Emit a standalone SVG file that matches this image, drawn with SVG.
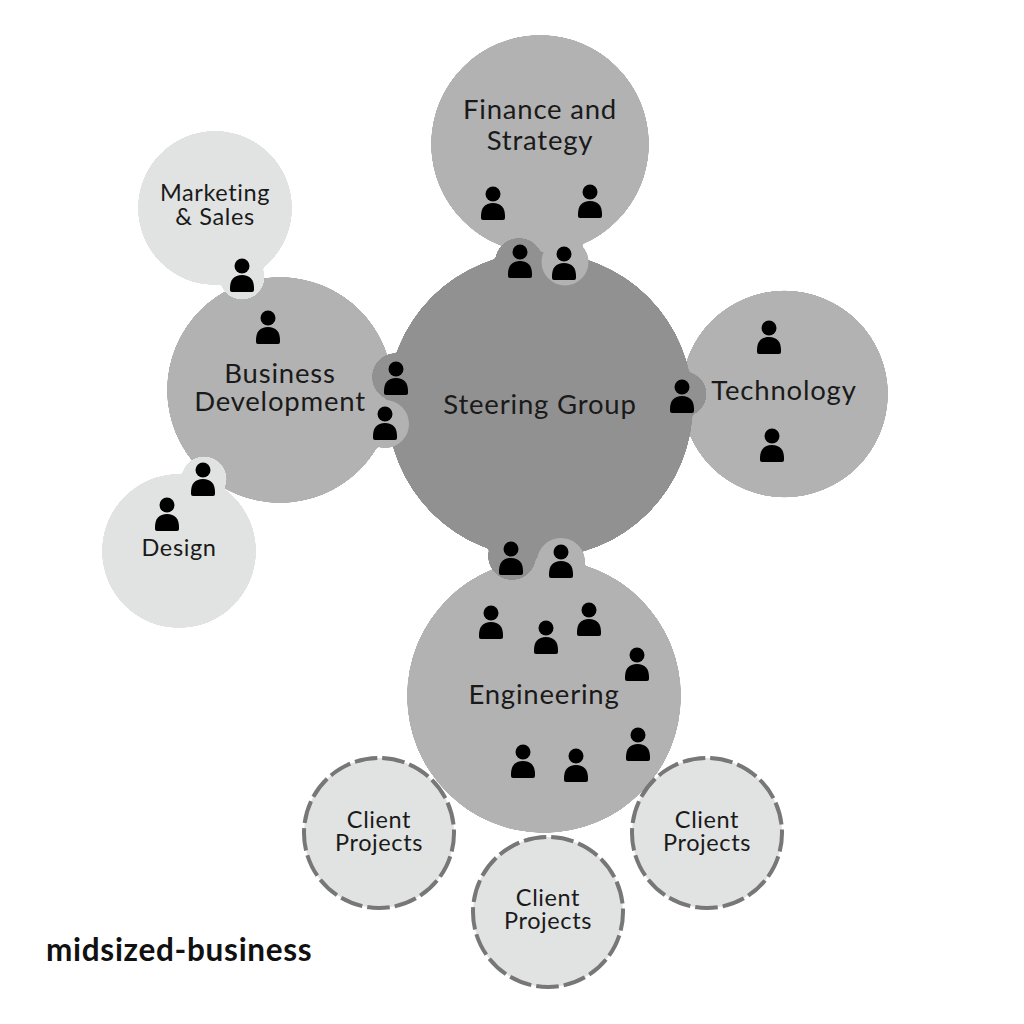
<svg xmlns="http://www.w3.org/2000/svg" width="1024" height="1024" viewBox="0 0 1024 1024">
<style>
text{font-family:Lato,"Noto Sans","Liberation Sans",sans-serif;fill:#1a1a1a;text-anchor:middle}
.l{font-size:27.5px;letter-spacing:.8px}.s{font-size:23.5px;letter-spacing:.6px}
.mid{fill:#b2b2b2}.dark{fill:#919191}.pale{fill:#e1e3e2}
.goo{filter:url(#goo)}
.cp{fill:#e1e3e2;stroke:#777;stroke-width:4;stroke-dasharray:22.7 5;stroke-dashoffset:4}
</style>
<defs>
<filter id="goo" x="-15%" y="-15%" width="130%" height="130%" color-interpolation-filters="sRGB"><feGaussianBlur stdDeviation="1.6"/><feColorMatrix values="1 0 0 0 0 0 1 0 0 0 0 0 1 0 0 0 0 0 12 -5.500"/></filter>
<g id="p" fill="#000"><circle cx="0" cy="0" r="7.500"/><path d="M-12 22C-12 14-8 9 0 9S12 14 12 22V24Q12 26 10 26H-10Q-12 26-12 24Z"/></g>
</defs>
<rect width="1024" height="1024" fill="#fff"/>
<g id="connectors"/>
<g id="finance" class="goo"><circle class="mid" cx="540" cy="144" r="109"/><circle class="mid" cx="565" cy="262" r="23.500"/></g>
<g id="technology" class="goo"><circle class="mid" cx="784.500" cy="394" r="103.500"/></g>
<g id="business-development" class="goo"><circle class="mid" cx="280" cy="390" r="113"/><circle class="mid" cx="385" cy="424" r="24"/></g>
<g id="engineering" class="goo"><circle class="mid" cx="544" cy="696" r="137"/><circle class="mid" cx="561" cy="562" r="24"/></g>
<g id="marketing" class="goo"><circle class="pale" cx="215" cy="208" r="77"/><circle class="pale" cx="242" cy="277" r="22.500"/></g>
<g id="design" class="goo"><circle class="pale" cx="179" cy="551" r="77"/><circle class="pale" cx="204" cy="479" r="22.500"/></g>
<g id="steering" class="goo"><circle class="dark" cx="519" cy="262" r="24"/><circle class="dark" cx="396" cy="377" r="24"/><circle class="dark" cx="512" cy="556" r="24"/><circle class="dark" cx="684" cy="394" r="22.500"/><circle class="dark" cx="540" cy="405" r="153"/></g>
<g id="shared-members"><circle class="mid" cx="565" cy="262" r="23.500"/><circle class="mid" cx="385" cy="424" r="24"/><circle class="mid" cx="561" cy="562" r="24"/></g>
<g id="client-1"><circle class="cp" cx="379" cy="833" r="75"/><text class="s" x="379" y="828">Client</text><text class="s" x="379" y="851">Projects</text></g>
<g id="client-2"><circle class="cp" cx="707" cy="833" r="75"/><text class="s" x="707" y="828">Client</text><text class="s" x="707" y="851">Projects</text></g>
<g id="client-3"><circle class="cp" cx="548" cy="912" r="75"/><text class="s" x="548" y="906">Client</text><text class="s" x="548" y="929">Projects</text></g>
<g id="people">
<use href="#p" x="493" y="194"/><use href="#p" x="590" y="192"/><use href="#p" x="520" y="252"/><use href="#p" x="564" y="254"/>
<use href="#p" x="396" y="369"/><use href="#p" x="385" y="414"/><use href="#p" x="511" y="549"/><use href="#p" x="561" y="552"/>
<use href="#p" x="682" y="387"/><use href="#p" x="769" y="328"/><use href="#p" x="772" y="436"/>
<use href="#p" x="242" y="266"/><use href="#p" x="268" y="318"/><use href="#p" x="203" y="470"/><use href="#p" x="167" y="505"/>
<use href="#p" x="491" y="613"/><use href="#p" x="546" y="628"/><use href="#p" x="589" y="610"/><use href="#p" x="637" y="655"/><use href="#p" x="638" y="735"/><use href="#p" x="523" y="752"/><use href="#p" x="576" y="756"/>
</g>
<g id="labels">
<text class="l" x="540" y="119">Finance and</text><text class="l" x="540" y="150">Strategy</text>
<text class="s" x="215" y="201">Marketing</text><text class="s" x="215" y="225">&amp; Sales</text>
<text class="l" x="280" y="383">Business</text><text class="l" x="280" y="411">Development</text>
<text class="l" x="540" y="414">Steering Group</text>
<text class="l" x="784" y="400">Technology</text>
<text class="l" x="544" y="704">Engineering</text>
<text class="s" x="179" y="556">Design</text>
</g>
<text x="46" y="961" style="font-size:31.500px;letter-spacing:.7px;font-weight:700;text-anchor:start;fill:#111">midsized-business</text>
</svg>
